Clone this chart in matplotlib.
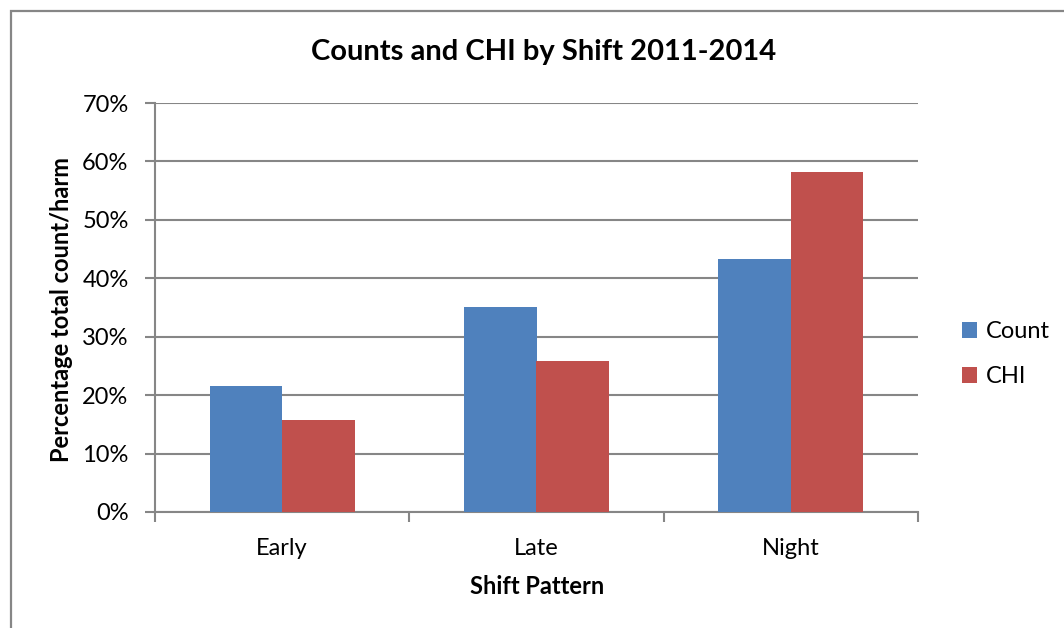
import matplotlib
matplotlib.use("Agg")
import matplotlib.pyplot as plt
import numpy as np
from matplotlib.patches import Rectangle
from matplotlib.ticker import FuncFormatter

shifts = ["Early", "Late", "Night"]
count_pct = [21.5, 35.1, 43.3]
chi_pct = [15.7, 25.9, 58.2]
series_names = ["Count", "CHI"]

AZUL = "#4F81BD"
ROJO = "#C0504D"
GRIS = "#868686"

plt.rcParams.update({"font.family": ["Lato", "DejaVu Sans"]})

fig = plt.figure(figsize=(10.64, 6.28), dpi=100)
ax = fig.add_axes([155 / 1064, 1 - 512 / 628, 763 / 1064, 409 / 628])

# chart border (cut off on right / bottom like the source)
fig.patches.append(Rectangle((11 / 1064, -0.05), 1.1, 1 - 11 / 628 + 0.05,
                             transform=fig.transFigure, fill=False,
                             edgecolor=GRIS, linewidth=1.6))

x = np.arange(len(shifts))
w = 0.285
ax.bar(x - w / 2, count_pct, w, color=AZUL, label=series_names[0], zorder=3)
ax.bar(x + w / 2, chi_pct, w, color=ROJO, label=series_names[1], zorder=3)

ax.set_xlim(-0.5, len(shifts) - 0.5)
ax.set_ylim(0, 70)
ax.set_yticks(np.arange(0, 71, 10))
ax.yaxis.set_major_formatter(FuncFormatter(lambda v, _: f"{v:.0f}%"))
ax.set_xticks(x)
ax.set_xticklabels(shifts)
ax.set_xticks(np.arange(-0.5, len(shifts)), minor=True)
ax.tick_params(axis="x", which="major", length=0, pad=19, labelsize=17)
ax.tick_params(axis="x", which="minor", length=7, width=1.5, color=GRIS)
ax.tick_params(axis="y", length=7, width=1.5, color=GRIS, labelsize=17, pad=12)

ax.grid(axis="y", color=GRIS, linewidth=1.5, zorder=0)
for s in ["top", "right"]:
    ax.spines[s].set_visible(False)
for s in ["left", "bottom"]:
    ax.spines[s].set_color(GRIS)
    ax.spines[s].set_linewidth(1.5)

fig.text(544 / 1064, 1 - 52 / 628, "Counts and CHI by Shift 2011-2014",
         ha="center", va="center", fontsize=21, fontweight="bold")
fig.text(62 / 1064, 1 - 310 / 628, "Percentage total count/harm",
         ha="center", va="center", rotation=90, fontsize=17, fontweight="bold")
fig.text(537 / 1064, 1 - 587 / 628, "Shift Pattern",
         ha="center", va="center", fontsize=17, fontweight="bold")

ax.legend(loc="center left", bbox_to_anchor=(1.045, 0.386), frameon=False,
          fontsize=17, handlelength=0.65, handleheight=0.65, handletextpad=0.35,
          labelspacing=1.0, borderaxespad=0)

fig.savefig("out.png", facecolor="white")
